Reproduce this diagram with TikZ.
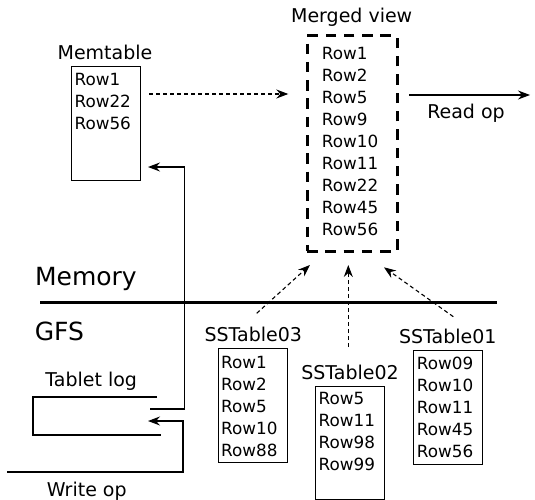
\documentclass[tikz,border=0pt]{standalone}
\usepackage{fontspec}
\setmainfont{DejaVu Sans}
\usetikzlibrary{arrows.meta}
\begin{document}
\begin{tikzpicture}[x=1pt,y=-1pt,
  rowbox/.style={draw, line width=1.1pt, inner sep=0pt},
  mergebox/.style={draw, line width=3pt, dash pattern=on 10.5pt off 7.8pt, inner sep=0pt},
  rowtext/.style={anchor=north west, inner sep=0pt, align=left, font=\fontsize{16.8}{22}\selectfont},
  lbl/.style={anchor=base, inner sep=0pt, font=\fontsize{19}{23}\selectfont},
  biglbl/.style={anchor=base west, inner sep=0pt, font=\fontsize{25}{30}\selectfont},
  conn/.style={line width=1.1pt, -{Stealth[length=12pt,width=9pt,inset=4pt]}},
  dconn/.style={conn, dash pattern=on 4pt off 3pt},
  sepline/.style={line width=3pt}
]
\useasboundingbox (0,0) rectangle (535,500);

% boxes
\node[rowbox, minimum width=68.6pt, minimum height=113.6pt] (mem) at (106,123.5) {};
\node[mergebox, minimum width=90pt, minimum height=215pt] (merged) at (352,143.5) {};
\node[rowbox, minimum width=69pt, minimum height=114.4pt] (s3) at (252.8,405.5) {};
\node[rowbox, minimum width=69pt, minimum height=113.3pt] (s2) at (350.2,442.7) {};
\node[rowbox, minimum width=68.6pt, minimum height=113.6pt] (s1) at (448,407.5) {};

% row texts
\node[rowtext] (memrows) at (74.4,72.7) {Row1\\Row22\\Row56};
\node[rowtext] (mergedrows) at (321.7,47) {Row1\\Row2\\Row5\\Row9\\Row10\\Row11\\Row22\\Row45\\Row56};
\node[rowtext] (s3rows) at (221,356) {Row1\\Row2\\Row5\\Row10\\Row88};
\node[rowtext] (s2rows) at (318.4,392) {Row5\\Row11\\Row98\\Row99};
\node[rowtext] (s1rows) at (416.7,356.4) {Row09\\Row10\\Row11\\Row45\\Row56};

% labels
\node[lbl] (memlbl) at (105,60) {Memtable};
\node[lbl] (mergedlbl) at (351.7,23) {Merged view};
\node[lbl] (readlbl) at (466,118.7) {Read op};
\node[lbl] (s3lbl) at (253.3,341.7) {SSTable03};
\node[lbl] (s2lbl) at (350,379.3) {SSTable02};
\node[lbl] (s1lbl) at (447.8,343.3) {SSTable01};
\node[lbl] (loglbl) at (91.2,386.7) {Tablet log};
\node[lbl] (writelbl) at (86.7,496.7) {Write op};
\node[biglbl] (memory) at (34.9,285) {Memory};
\node[biglbl] (gfs) at (34.6,340) {GFS};

% separator
\draw[sepline] (40,302) -- (497,302);

% tablet log bracket
\draw[line width=1.1pt] (157,397) -- (33,397) -- (33,435) -- (161,435);

% connector end points
\coordinate (memout) at (149.3,94);
\coordinate (mergedin) at (288.3,94);
\coordinate (readout) at (409.3,95);
\coordinate (readend) at (530,95);
\coordinate (logout) at (150,409);
\coordinate (memin) at (148,167);
\coordinate (writestart) at (7,472);
\coordinate (login) at (148,421);
\coordinate (s3out) at (256.7,313.3);
\coordinate (s3in) at (310,265);
\coordinate (s2out) at (348.3,347);
\coordinate (s2in) at (348.3,265);
\coordinate (s1out) at (453.3,316.7);
\coordinate (s1in) at (384,267.3);

% connectors
\draw[dconn] (memout) -- (mergedin);
\draw[conn] (readout) -- (readend);
\draw[conn] (logout) -- ++(34.3,0) |- (memin);
\draw[conn] (writestart) -- ++(176,0) |- (login);
\draw[dconn] (s3out) -- (s3in);
\draw[dconn] (s2out) -- (s2in);
\draw[dconn] (s1out) -- (s1in);
\end{tikzpicture}
\end{document}
